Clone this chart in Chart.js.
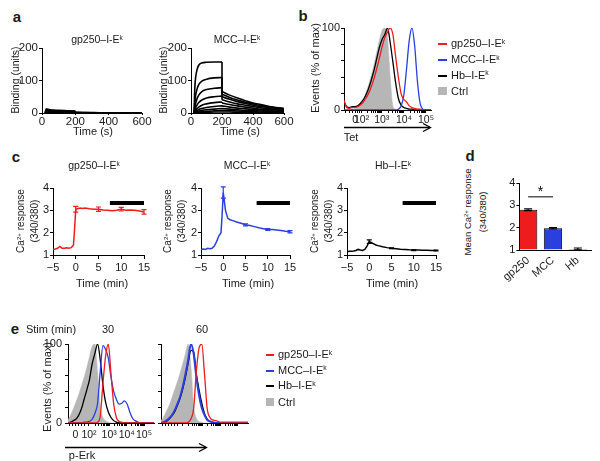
<!DOCTYPE html>
<html><head><meta charset="utf-8">
<script src="https://cdn.jsdelivr.net/npm/chart.js@4.4.1/dist/chart.umd.min.js"></script>
<style>
html,body{margin:0;padding:0;background:#fff}
body{width:600px;height:461px;position:relative;overflow:hidden;font-family:'Liberation Sans',Arial,sans-serif;color:#1a1a1a}
canvas{position:absolute}
.t{position:absolute;transform:translate(-50%,-50%);white-space:nowrap;font-size:11px;line-height:13px}
.v{transform:translate(-50%,-50%) rotate(-90deg);text-align:center}
.p{font-weight:bold;font-size:15px}
.l{position:absolute;white-space:nowrap;font-size:11px;line-height:13px;transform:translateY(-50%)}
.s{font-size:0.62em;position:relative;top:-0.45em}
</style></head><body>
<svg width="600" height="461" style="position:absolute;left:0;top:0;pointer-events:none">
<g stroke="#000" stroke-width="1.3" fill="none">
<line x1="344" y1="127.5" x2="430" y2="127.5"/><polyline points="423,123.5 430.5,127.5 423,131.5"/>
<line x1="65" y1="447.5" x2="206" y2="447.5"/><polyline points="199,443.5 206.5,447.5 199,451.5"/>
</g></svg>
<script>
// ---------- DATA ----------
// Panel a: surface plasmon resonance sensorgrams
const assocT = [20,22,25,30,40,50,70,100,150,200];
const dissocT = [200,250,300,350,400,450,500,550,600];
const mccAssoc = [
 [0,40,80,110,135,147,154,156,157,157],
 [0,15,35,55,75,87,98,104,108,109],
 [0,8,18,30,45,55,66,72,76,78],
 [0,4,9,16,25,32,40,46,50,52],
 [0,2,5,9,14,18,24,28,32,34],
 [0,1,3,5,8,11,14,17,20,22],
 [0,1,2,3,5,6,8,10,12,14],
 [0,0,1,2,3,3,4,5,7,8],
 [0,0,0,1,1,1,2,2,3,3]];
const mccDissoc = [
 [66,55,46,38,31,26,21,17,14],
 [58,48,40,33,28,23,19,16,13],
 [50,42,35,29,24,20,17,14,11],
 [41,34,28,24,20,16,14,11,9],
 [31,26,22,18,15,12,10,9,7],
 [22,18,15,13,11,9,7,6,5],
 [14,12,10,8,7,6,5,4,3],
 [8,7,6,5,4,3,3,2,2],
 [3,3,2,2,2,1,1,1,1]];
const gpAssoc = [
 [0,8,12,12,11,10,9,8,7,6],
 [0,6,9,9,8.5,8,7,6.5,5.5,5],
 [0,4,6,6,6,5.5,5,4.5,4,3.5],
 [0,2,4,4,4,3.5,3,3,2.5,2],
 [0,1,2,2,2,2,1.5,1.5,1,1]];
const gpDissoc = [
 [2,1.5,1.2,1,1,1,1,1,1],
 [1.5,1.2,1,1,1,0.8,0.8,0.8,0.8],
 [1,1,0.8,0.8,0.7,0.7,0.6,0.6,0.6],
 [0.8,0.6,0.6,0.5,0.5,0.5,0.4,0.4,0.4],
 [0.4,0.3,0.3,0.3,0.3,0.2,0.2,0.2,0.2]];
const aTicksX = [0,200,400,600];
const aTicksY = [0,100,200];

// Panels b, e: flow cytometry histograms (channel vs % of max)
const chan = [0,32,64,96,128,160,192,224,256,288,320,352,384,416,448,480,512,544,576,608,640,672,704,736,768,800,832,864,896,928,960,992,1024];
const tetCtrl = [0,0,0,1,1,3,6,12,20,30,42,55,70,85,97,100,88,40,5,1,0,0,0,0,0,0,0,0,0,0,0,0,0];
const tetHb   = [10,4,3,4,4,5,8,12,18,26,36,48,62,76,86,92,100,82,58,33,14,6,3,2,1,1,0,0,0,0,0,0,0];
const tetGp   = [12,3,2,3,3,4,6,9,14,20,28,38,50,63,77,88,95,100,92,65,40,20,13,10,5,3,2,1,1,0,0,0,0];
const tetMcc  = [0,0,0,0,0,0,0,0,0,0,0,0,0,0,0,0,0,0,0,0,1,5,18,50,85,100,78,35,8,1,0,0,0];
const tetTickPos = [130,207,444,706,965];
const logLabels = ['0','10²','10³','10⁴','10⁵'];
const tetMinor = [20,60,100,160,180,278,320,350,373,391,407,421,433,523,569,602,627,648,665,680,694,784,829,862,886,907,924,939,953];
const pctTicks = [0,20,40,60,80,100];
const pctLabels = ['0','','','','','100'];

const erkCtrl30 = [4,10,18,27,36,47,58,70,84,97,100,65,21,7,3,1,0,0,0,0,0,0,0,0,0,0,0,0,0,0,0,0,0];
const erkHb30   = [0,1,3,5,10,18,30,42,55,75,88,100,80,48,26,14,7,3,1,0,0,0,0,0,0,0,0,0,0,0,0,0,0];
const erkGp30   = [0,0,0,0,0,0,0,0,0,0,0,1,9,50,85,100,62,24,7,2,1,0,0,0,0,0,0,0,0,0,0,0,0];
const erkMcc30  = [0,0,0,0,0,0,1,1,2,5,12,25,65,98,93,82,58,40,30,24,25,28,24,14,6,3,1,0,0,0,0,0,0];
const erkCtrl60 = [3,8,15,22,32,42,52,63,75,88,100,72,22,6,2,1,0,0,0,0,0,0,0,0,0,0,0,0,0,0,0,0,0];
const erkHb60   = [0,1,2,5,9,14,22,31,43,58,76,92,90,62,42,25,12,5,2,1,0,0,0,0,0,0,0,0,0,0,0,0,0];
const erkGp60   = [0,0,0,0,0,0,0,0,0,0,1,5,18,65,95,100,62,18,7,4,3,2,1,1,1,1,1,1,1,1,1,1,1];
const erkMcc60  = [0,1,3,6,10,16,24,33,46,62,80,100,88,58,35,19,10,4,2,1,0,0,0,0,0,0,0,0,0,0,0,0,0];
const erkTickPos = [87,250,490,700,905];
const erkMinor = [20,50,120,160,200,322,365,394,418,437,453,467,479,553,590,616,637,653,667,680,690,762,798,823,843,860,873,885,896];

// Panel c: Ca2+ traces
const timeC = [-5,-4.5,-4,-3.5,-3,-2.5,-2,-1.5,-1,-0.5,-0.25,0,0.5,1,1.5,2,3,4,5,6,7,8,9,10,11,12,13,14,15];
const gpCa  = [1.25,1.27,1.3,1.38,1.3,1.3,1.32,1.3,1.33,1.45,2.2,3.05,3.08,3.1,3.08,3.1,3.07,3.05,3.05,3.02,3.0,2.98,3.0,3.05,3.0,3.02,3.0,2.97,2.93];
const mccCa = [1.25,1.27,1.25,1.3,1.28,1.3,1.4,1.6,1.85,2.0,2.8,3.8,3.0,2.65,2.58,2.55,2.48,2.42,2.35,2.32,2.27,2.22,2.18,2.14,2.14,2.12,2.1,2.06,2.04];
const hbCa  = [1.15,1.17,1.17,1.18,1.2,1.25,1.22,1.2,1.25,1.4,1.5,1.6,1.55,1.5,1.45,1.42,1.37,1.33,1.3,1.28,1.26,1.25,1.23,1.22,1.22,1.21,1.21,1.2,1.2];
const errT = [0,5,10,15];
const gpErr = [0.13,0.1,0.08,0.1];
const mccErr = [0.25,0.05,0.04,0.05];
const hbErr = [0.08,0.02,0.02,0.02];
const barSpan = [7.5,15];
const barLevel = 3.33;
const cTicksX = [-5,0,5,10,15];
const cTicksY = [1,2,3,4];

// Panel d: mean Ca2+ response
const dCats = ['gp250','MCC','Hb'];
const dMeans = [2.8,1.97,1.05];
const dErr = [0.04,0.03,0.04];
const sigLevel = 3.38;

// ---------- SETUP ----------
const FONT = "'Liberation Sans', Arial, Helvetica, sans-serif";
Chart.defaults.font.family = FONT;
Chart.defaults.font.size = 11;
Chart.defaults.color = '#1a1a1a';
Chart.defaults.animation = false;
Chart.defaults.responsive = false;
Chart.defaults.maintainAspectRatio = false;
Chart.defaults.devicePixelRatio = 1;
Chart.defaults.plugins.legend.display = false;
Chart.defaults.plugins.tooltip.enabled = false;
Chart.defaults.events = [];

const RED = '#ee1c1c', BLUE = '#2a3fe0', GREY = '#b6b6b6';

const errPlugin = {id:'err', afterDatasetsDraw(chart){
  const ctx = chart.ctx, xs = chart.scales.x, ys = chart.scales.y;
  chart.data.datasets.forEach((ds,i)=>{
    if(!ds.err) return;
    const meta = chart.getDatasetMeta(i);
    ctx.save(); ctx.strokeStyle = ds.errColor || ds.borderColor; ctx.lineWidth = 1.2;
    ds.err.forEach((e,j)=>{
      const x = e.cat !== undefined ? meta.data[e.cat].x : xs.getPixelForValue(e.x);
      const y1 = ys.getPixelForValue(e.y - e.e), y2 = ys.getPixelForValue(e.y + e.e);
      const w = e.w || 2.5;
      ctx.beginPath(); ctx.moveTo(x,y1); ctx.lineTo(x,y2);
      ctx.moveTo(x-w,y1); ctx.lineTo(x+w,y1); ctx.moveTo(x-w,y2); ctx.lineTo(x+w,y2); ctx.stroke();
    });
    ctx.restore();
  });
}};
Chart.register(errPlugin);

function axis(min, max, vals, labels, o){
  o = o || {};
  const map = {}; vals.forEach((v,i)=>{ map[v] = labels ? (labels[i] !== undefined ? labels[i] : '') : ''; });
  return {
    type:'linear', min, max, offset:false,
    afterBuildTicks: s => { s.ticks = vals.map(v => ({value:v})); },
    grid:{drawOnChartArea:false, drawTicks:(o.noTicks ? false : true), tickLength:(o.tl!==undefined?o.tl:3), color:'#000', lineWidth:1, offset:false},
    border:{display:true, color:'#000', width:1},
    ticks:{autoSkip:false, maxRotation:(o.rot||0), minRotation:(o.rot||0), padding:(o.pad!==undefined?o.pad:1), font:{size:o.fs||11}, color:'#1a1a1a', callback: v => map[v]}
  };
}
function mk(b, cfg){
  const pt = b.pt || 10, pr = b.pr || 14;
  const c = document.createElement('canvas');
  const w = Math.round(b.R - b.L + b.yW + pr), h = Math.round(b.B - b.T + pt + b.xH);
  c.width = w; c.height = h;
  c.style.left = (b.L - b.yW) + 'px'; c.style.top = (b.T - pt) + 'px';
  c.style.width = w + 'px'; c.style.height = h + 'px';
  document.body.appendChild(c);
  cfg.options.layout = {padding:{left:0, top:pt, right:pr, bottom:0}};
  cfg.options.scales.x.afterFit = s => { s.height = b.xH; };
  cfg.options.scales.y.afterFit = s => { s.width = b.yW; };
  return new Chart(c, cfg);
}
function line(data, color, w, smooth, extra){
  return Object.assign({type:'line', data, borderColor:color, backgroundColor:color, borderWidth:w,
    pointRadius:0, fill:false, tension:0, cubicInterpolationMode: smooth ? 'monotone' : 'default'}, extra || {});
}
function pts(xs, ys){ return xs.map((x,i)=>({x, y:ys[i]})); }
function kinetics(assoc, dissoc){
  const ds = [];
  assoc.forEach((A,i)=>{
    const D = dissoc[i];
    ds.push(line(pts(assocT, A), '#000', 1.6, true));
    ds.push(line([{x:200,y:A[A.length-1]},{x:200,y:D[0]}], '#000', 1.6, false));
    ds.push(line(pts(dissocT, D), '#000', 1.6, true));
  });
  return ds;
}

// ---------- PANEL a ----------
function aChart(box, assoc, dissoc){
  mk(box, {type:'line', data:{datasets:kinetics(assoc, dissoc)},
    options:{scales:{
      x: axis(0, 600, aTicksX, aTicksX.map(String), {tl:2, pad:0, fs:11.5}),
      y: axis(0, 200, aTicksY, aTicksY.map(String), {tl:3, pad:1, fs:11.5})}}});
}
aChart({L:42,T:48,R:142,B:113,yW:28,xH:22}, gpAssoc, gpDissoc);
aChart({L:191,T:48,R:284,B:113,yW:28,xH:22}, mccAssoc, mccDissoc);

// ---------- PANEL b ----------
function histChart(box, sets, tickPos, minor, labelled, wBlue){
  const vals = tickPos.concat(minor);
  const labs = labelled ? logLabels : [];
  mk(box, {type:'line', data:{datasets:[
      line(pts(chan, sets.gp), RED, 1.3, true),
      line(pts(chan, sets.mcc), BLUE, wBlue || 1.3, true),
      line(pts(chan, sets.hb), '#000', 1.3, true),
      line(pts(chan, sets.ctrl), GREY, 0.5, true, {fill:'origin', backgroundColor:GREY})
    ]},
    options:{scales:{
      x: axis(0, 1024, vals, labs, {tl:3, pad:box.xpad||1, fs:10.5}),
      y: axis(0, 100, pctTicks, labelled ? pctLabels : [], {tl:3, pad:box.ypad||1})}}});
}
histChart({L:344,T:28,R:431,B:110,yW:30,xH:20,xpad:0}, {gp:tetGp, mcc:tetMcc, hb:tetHb, ctrl:tetCtrl}, tetTickPos, tetMinor, true);

// ---------- PANEL c ----------
function cChart(box, vals, errs, color){
  const errPts = errT.map((t,j)=>({x:t, y:vals[timeC.indexOf(t)], e:errs[j]}));
  mk(box, {type:'line', data:{datasets:[
      line(pts(timeC, vals), color, 1.5, false, {err:errPts}),
      line(barSpan.map(t=>({x:t, y:barLevel})), '#000', 4, false, {borderCapStyle:'butt'})
    ]},
    options:{scales:{
      x: axis(-5, 15, cTicksX, cTicksX.map(v => v < 0 ? '\u2212' + Math.abs(v) : String(v)), {tl:4, pad:2}),
      y: axis(1, 4, cTicksY, cTicksY.map(String), {tl:3, pad:1})}}});
}
cChart({L:53,T:188,R:144,B:255,yW:14,xH:22}, gpCa, gpErr, RED);
cChart({L:201,T:188,R:290,B:255,yW:14,xH:22}, mccCa, mccErr, BLUE);
cChart({L:347,T:188,R:436,B:255,yW:14,xH:22}, hbCa, hbErr, '#000');

// ---------- PANEL d ----------
const sigPlugin = {id:'sig', afterDatasetsDraw(chart){
  const m = chart.getDatasetMeta(0), y = chart.scales.y.getPixelForValue(sigLevel), ctx = chart.ctx;
  ctx.save(); ctx.strokeStyle = '#000'; ctx.lineWidth = 1;
  ctx.beginPath(); ctx.moveTo(m.data[0].x, y); ctx.lineTo(m.data[1].x, y); ctx.stroke();
  ctx.fillStyle = '#000'; ctx.font = '14px ' + FONT; ctx.textAlign = 'center'; ctx.textBaseline = 'alphabetic';
  ctx.fillText('*', (m.data[0].x + m.data[1].x) / 2, y - 1);
  ctx.restore();
}};
mk({L:513,T:183,R:591,B:250,yW:14,xH:40}, {type:'bar',
  data:{datasets:[{data:dMeans.map((v,i)=>({x:i, y:v})), base:1, backgroundColor:[RED, BLUE, '#333'], borderColor:'#000', borderWidth:1,
    barPercentage:0.86, categoryPercentage:0.86,
    err:dMeans.map((v,i)=>({cat:i, y:v, e:dErr[i], w:4})), errColor:'#000'}]},
  options:{scales:{
    x: axis(-0.35, 2.53, [0,1,2], dCats, {noTicks:true, pad:4, rot:40}),
    y: axis(1, 4, cTicksY, cTicksY.map(String), {tl:3, pad:1})}},
  plugins:[sigPlugin]});

// ---------- PANEL e ----------
histChart({L:68,T:344,R:154,B:423,yW:30,xH:22,xpad:3,ypad:3}, {gp:erkGp30, mcc:erkMcc30, hb:erkHb30, ctrl:erkCtrl30}, erkTickPos, erkMinor, true);
histChart({L:161,T:344,R:248,B:423,yW:6,xH:22}, {gp:erkGp60, mcc:erkMcc60, hb:erkHb60, ctrl:erkCtrl60}, erkTickPos, erkMinor, false, 2);

// ---------- TEXT ----------
const K = '<span class="s">k</span>';
function T(html, x, y, cls, style){
  const d = document.createElement('div'); d.className = 't ' + (cls || '');
  d.style.left = x + 'px'; d.style.top = y + 'px'; d.innerHTML = html;
  if (style) d.style.cssText += style;
  document.body.appendChild(d);
}
function legend(x0, lw, rows){
  rows.forEach(r => {
    const m = document.createElement('div');
    m.style.cssText = 'position:absolute;left:' + x0 + 'px;top:' + (r.y - (r.box ? 4 : 1)) + 'px;width:' + lw + 'px;height:' + (r.box ? 8 : 2) + 'px;background:' + r.c;
    document.body.appendChild(m);
    const d = document.createElement('div'); d.className = 'l';
    d.style.left = (x0 + lw + 4) + 'px'; d.style.top = r.y + 'px'; d.innerHTML = r.t;
    document.body.appendChild(d);
  });
}
const small = 'font-size:10.5px';
// panel letters
T('a', 17, 16, 'p'); T('b', 303, 15, 'p'); T('c', 16, 156, 'p'); T('d', 470, 155, 'p'); T('e', 15, 328, 'p');
// a
T('gp250–I-E' + K, 97, 40, '', small); T('MCC–I-E' + K, 237, 40, '', small);
T('Binding (units)', 15, 80, 'v', 'font-size:10.5px'); T('Binding (units)', 163, 80, 'v', 'font-size:10.5px');
T('Time (s)', 93, 131); T('Time (s)', 240, 131);
// b
T('Events (% of max)', 315, 68, 'v');
T('Tet', 351, 137);
legend(438, 9, [{y:44,c:RED,t:'gp250–I-E'+K},{y:60,c:BLUE,t:'MCC–I-E'+K},{y:75.5,c:'#000',t:'Hb–I-E'+K},{y:91,c:GREY,t:'Ctrl',box:true}]);
// c
T('gp250–I-E' + K, 94, 166, '', small); T('MCC–I-E' + K, 247, 166, '', small); T('Hb–I-E' + K, 393, 166, '', small);
const caY = 'line-height:12.5px;font-size:10px';
T('Ca<span class="s">2+</span> response<br>(340/380)', 28, 221, 'v', caY);
T('Ca<span class="s">2+</span> response<br>(340/380)', 175, 221, 'v', caY);
T('Ca<span class="s">2+</span> response<br>(340/380)', 322, 221, 'v', caY);
T('Time (min)', 102, 283); T('Time (min)', 248, 283); T('Time (min)', 392, 283);
// d
T('Mean Ca<span class="s">2+</span> response<br>(340/380)', 475, 212, 'v', 'line-height:13px;font-size:9.5px');
// e
T('Stim (min)', 51, 329); T('30', 108, 329); T('60', 202, 329);
T('Events (% of max)', 47, 387, 'v');
T('p-Erk', 82, 455);
legend(266, 8, [{y:355,c:RED,t:'gp250–I-E'+K},{y:370.5,c:BLUE,t:'MCC–I-E'+K},{y:386,c:'#000',t:'Hb–I-E'+K},{y:402,c:GREY,t:'Ctrl',box:true}]);
</script>
</body></html>
